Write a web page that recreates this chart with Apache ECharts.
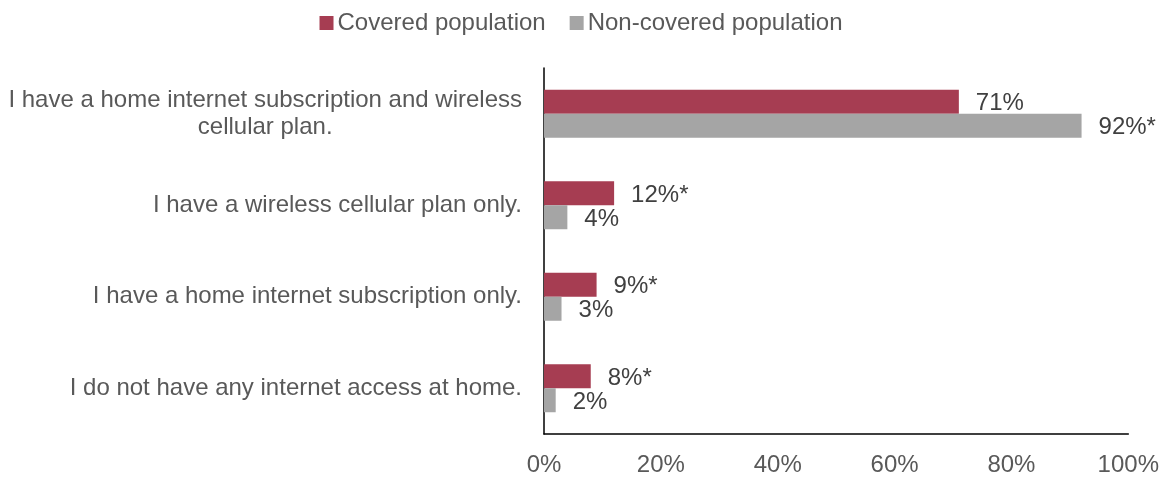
<!DOCTYPE html>
<html>
<head>
<meta charset="utf-8">
<script src="https://cdn.jsdelivr.net/npm/echarts@6/dist/echarts.min.js"></script>
<style>
  html, body { margin: 0; padding: 0; background: #fff; }
  #chart { width: 1162px; height: 477px; }
</style>
</head>
<body>
<div id="chart"></div>
<script>
// Survey responses on home internet access
const categories = [
  'I have a home internet subscription and wireless\ncellular plan.',
  'I have a wireless cellular plan only.',
  'I have a home internet subscription only.',
  'I do not have any internet access at home.'
];
const seriesNames = ['Covered population', 'Non-covered population'];
const coveredValues = [71, 12, 9, 8];
const nonCoveredValues = [92, 4, 3, 2];
// '*' marks statistically significant differences
const coveredMarks = ['', '*', '*', '*'];
const nonCoveredMarks = ['*', '', '', ''];
const xTicks = [0, 20, 40, 60, 80, 100];

const FONT = '"Liberation Sans", Arial, sans-serif';
const chart = echarts.init(document.getElementById('chart'));

function labelFor(marks) {
  return {
    show: true,
    position: 'right',
    distance: 17,
    offset: [0, 2],
    fontFamily: FONT,
    fontSize: 24,
    color: '#404040',
    formatter: p => p.value + '%' + marks[p.dataIndex]
  };
}

chart.setOption({
  animation: false,
  textStyle: { fontFamily: FONT },
  legend: {
    top: 6,
    left: 'center',
    itemWidth: 14,
    itemHeight: 14,
    itemGap: 24,
    icon: 'rect',
    textStyle: { fontFamily: FONT, fontSize: 24, color: '#595959', padding: [0, 0, 0, -1] },
    data: seriesNames
  },
  grid: { left: 544, right: 32, top: 68, bottom: 37, containLabel: false },
  xAxis: {
    type: 'value',
    min: xTicks[0],
    max: xTicks[xTicks.length - 1],
    interval: 20,
    axisLine: { show: true, lineStyle: { color: '#000', width: 1.5 } },
    axisTick: { show: false },
    splitLine: { show: false },
    axisLabel: {
      margin: 19,
      fontFamily: FONT,
      fontSize: 24,
      color: '#595959',
      formatter: v => v + '%'
    }
  },
  yAxis: {
    type: 'category',
    inverse: true,
    data: categories,
    axisLine: { show: true, lineStyle: { color: '#000', width: 1.5 } },
    axisTick: { show: false },
    axisLabel: {
      margin: 22,
      fontFamily: FONT,
      fontSize: 24,
      lineHeight: 27,
      color: '#595959',
      align: 'right',
      formatter: v => v.indexOf('\n') >= 0
        ? v.split('\n').map(s => '{c|' + s + '}').join('\n')
        : v,
      rich: {
        c: { align: 'center', fontFamily: FONT, fontSize: 24, lineHeight: 27, color: '#595959' }
      }
    }
  },
  series: [
    {
      name: seriesNames[0],
      type: 'bar',
      data: coveredValues,
      barWidth: 24,
      barGap: '0%',
      itemStyle: { color: '#A63D52' },
      label: labelFor(coveredMarks)
    },
    {
      name: seriesNames[1],
      type: 'bar',
      data: nonCoveredValues,
      barWidth: 24,
      barGap: '0%',
      itemStyle: { color: '#A5A5A5' },
      label: labelFor(nonCoveredMarks)
    }
  ]
});
</script>
</body>
</html>
